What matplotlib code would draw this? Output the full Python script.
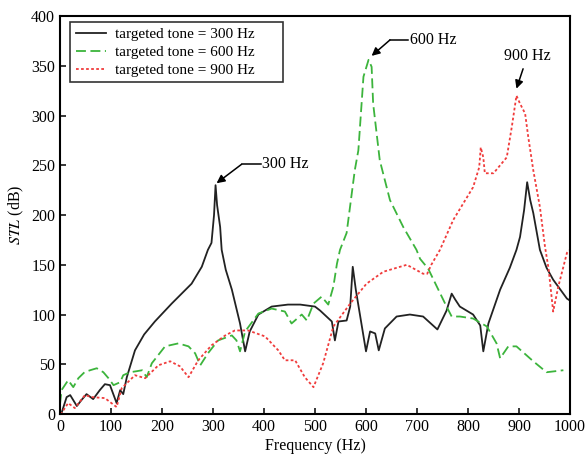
import matplotlib

matplotlib.use("Agg", force=True)
import matplotlib.pyplot as plt

# targeted tone = 300 Hz (solid black)
f_300 = [0, 3, 13, 20, 33, 42, 52, 65, 78, 88, 98, 111, 118, 124, 131, 147, 165, 186, 219, 258,
         278, 290, 297, 302, 305, 308, 314, 317, 325, 337, 353, 363, 372, 389, 415, 447, 471,
         500, 510, 533, 539, 546, 562, 569, 574, 580, 600, 608, 618, 625, 637, 660, 686, 712,
         740, 758, 768, 775, 784, 810, 824, 830, 840, 863, 882, 895, 902, 910, 916, 922, 928,
         941, 954, 967, 994, 1000]
stl_300 = [0, 1, 17, 19, 8, 14, 20, 15, 24, 30, 29, 11, 24, 20, 37, 64, 80, 93, 111, 131,
           148, 165, 172, 200, 230, 210, 188, 165, 145, 125, 91, 63, 83, 100, 108, 110, 110,
           108, 104, 93, 74, 93, 94, 108, 148, 125, 63, 83, 81, 64, 86, 98, 100, 98,
           85, 104, 121, 115, 108, 100, 89, 63, 91, 125, 147, 165, 178, 205, 233, 215, 202,
           165, 147, 135, 116, 114]

# targeted tone = 600 Hz (dashed green)
f_600 = [0, 3, 16, 26, 36, 48, 59, 72, 85, 95, 105, 118, 124, 137, 150, 161, 170, 180, 206,
         232, 252, 265, 275, 290, 310, 337, 346, 353, 363, 389, 415, 441, 454, 474, 484, 497,
         513, 526, 536, 543, 549, 562, 578, 585, 595, 605, 611, 614, 627, 647, 673, 699, 706,
         722, 739, 758, 768, 784, 810, 837, 856, 863, 879, 895, 928, 954, 987]
stl_600 = [10, 24, 34, 27, 36, 42, 44, 46, 42, 36, 29, 32, 39, 42, 43, 44, 37, 51, 68,
           71, 68, 61, 49, 61, 74, 79, 74, 63, 83, 101, 106, 103, 91, 100, 94, 111,
           118, 110, 128, 151, 165, 182, 245, 265, 339, 356, 349, 312, 255, 215, 188, 165, 156,
           146, 128, 108, 98, 98, 96, 88, 71, 56, 68, 68, 53, 42, 44]

# targeted tone = 900 Hz (dotted red)
f_900 = [0, 3, 16, 29, 49, 62, 88, 111, 121, 147, 167, 193, 216, 235, 252, 271, 297, 324,
         343, 369, 402, 428, 441, 461, 480, 497, 516, 536, 569, 601, 634, 680, 712, 720, 728,
         745, 771, 810, 822, 825, 830, 833, 850, 876, 886, 895, 902, 912, 918, 928, 941, 951,
         958, 967, 977, 994, 1000]
stl_900 = [0, 1, 11, 6, 19, 17, 16, 7, 26, 39, 36, 49, 53, 48, 37, 54, 69, 79,
           84, 84, 78, 64, 54, 54, 37, 27, 51, 88, 111, 131, 143, 150, 141, 141, 150,
           165, 195, 228, 248, 268, 258, 242, 242, 258, 289, 320, 312, 302, 279, 245, 208, 168,
           146, 103, 128, 162, 165]

x_ticks = [0, 100, 200, 300, 400, 500, 600, 700, 800, 900, 1000]
y_ticks = [0, 50, 100, 150, 200, 250, 300, 350, 400]

plt.rcParams["font.family"] = ["Liberation Serif", "DejaVu Serif"]
plt.rcParams["mathtext.fontset"] = "stix"

fig = plt.figure(figsize=(5.86, 4.59), dpi=100)
ax = fig.add_axes([0.1024, 0.098, 0.8703, 0.867])

ax.plot(f_300, stl_300, color="#222222", linewidth=1.3, label="targeted tone = 300 Hz")
ax.plot(f_600, stl_600, color="#3cb43c", linewidth=1.3, dashes=(5.5, 2.5), label="targeted tone = 600 Hz")
ax.plot(f_900, stl_900, color="#f03c3c", linewidth=1.3, dashes=(1.5, 1.3), label="targeted tone = 900 Hz")

ax.set_xlim(0, 1000)
ax.set_ylim(0, 400)
ax.set_xticks(x_ticks)
ax.set_yticks(y_ticks)
ax.tick_params(direction="in", length=4, width=1.1, labelsize=11.5, top=False, right=False)
for spine in ax.spines.values():
    spine.set_linewidth(1.5)
ax.set_xlabel("Frequency (Hz)", fontsize=11.5, labelpad=2)
ax.set_ylabel("$STL$ (dB)", fontsize=11.5, labelpad=4)

# peak labels
arrow = dict(arrowstyle="-|>", color="black", lw=1.1, mutation_scale=12, shrinkA=0, shrinkB=0)
ax.plot([356, 394], [251, 251], color="black", linewidth=1.1)
ax.annotate("", xy=(307, 232), xytext=(356, 251), arrowprops=arrow)
ax.text(396, 251, "300 Hz", fontsize=11.5, va="center", ha="left")

ax.plot([647, 683], [376, 376], color="black", linewidth=1.1)
ax.annotate("", xy=(611, 360), xytext=(647, 376), arrowprops=arrow)
ax.text(686, 376, "600 Hz", fontsize=11.5, va="center", ha="left")

ax.annotate("", xy=(895, 327), xytext=(908, 347), arrowprops=arrow)
ax.text(916, 360, "900 Hz", fontsize=11.5, va="center", ha="center")

leg = ax.legend(loc="upper left", fontsize=11, frameon=True, fancybox=False,
                edgecolor="black", borderpad=0.35, labelspacing=0.28, handlelength=2.0,
                handletextpad=0.6, borderaxespad=0, mode="expand",
                bbox_to_anchor=(0.02, 0.83, 0.418, 0.155))
leg.get_frame().set_linewidth(1.2)

fig.savefig("out.png", dpi=100)
